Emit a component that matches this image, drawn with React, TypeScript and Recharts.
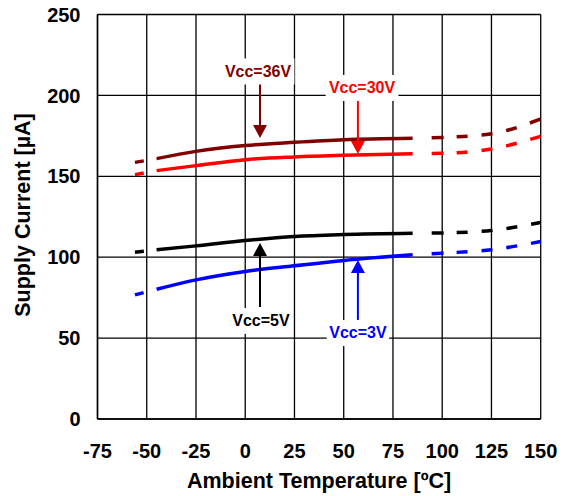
import { LineChart, Line, XAxis, YAxis, CartesianGrid, ReferenceLine, ReferenceDot } from 'recharts'

// temperature points (°C)
const temps = [-56, -45, -25, 0, 25, 50, 85, 100, 125, 150]

// supply current in µA per Vcc
const vcc36 = [158.6, 160.9, 165.4, 169.0, 171.0, 172.6, 173.5, 174.0, 176.3, 185.4]
const vcc30 = [151.0, 153.5, 156.6, 160.3, 162.0, 163.0, 164.0, 164.2, 166.9, 174.7]
const vcc5 = [103.1, 104.6, 107.0, 110.3, 112.8, 114.0, 114.8, 115.0, 116.5, 121.5]
const vcc3 = [76.7, 80.2, 86.0, 91.2, 94.7, 98.0, 101.5, 102.5, 104.6, 109.7]

const xTicks = [-75, -50, -25, 0, 25, 50, 75, 100, 125, 150]
const yTicks = [0, 50, 100, 150, 200, 250]

const series = [
  { key: 'v36', color: '#800000', values: vcc36 },
  { key: 'v30', color: '#ff0000', values: vcc30 },
  { key: 'v5', color: '#000000', values: vcc5 },
  { key: 'v3', color: '#0000ff', values: vcc3 },
]

// solid part spans index 1..6, dashed below and above
const rows = temps.map((t, i) => {
  const row: Record<string, number> = { t }
  series.forEach(s => {
    const v = s.values[i]
    if (i >= 1 && i <= 6) row[s.key + '_s'] = v
    if (i <= 1) row[s.key + '_l'] = v
    if (i >= 6) row[s.key + '_r'] = v
  })
  return row
})

const callouts = [
  { text: 'Vcc=36V', color: '#800000', x: 7.5, from: 207, to: 173.7, labelX: 6.5, labelY: 214.8 },
  { text: 'Vcc=30V', color: '#ff0000', x: 57.2, from: 196.5, to: 163.8, labelX: 59.3, labelY: 204.6 },
  { text: 'Vcc=5V', color: '#000000', x: 7.5, from: 69.2, to: 108.8, labelX: 8, labelY: 60.6 },
  { text: 'Vcc=3V', color: '#0000ff', x: 57.2, from: 61.2, to: 98.3, labelX: 57.2, labelY: 53.2 },
]

const font = '"Liberation Sans", Arial, sans-serif'

const arrowShape = (color: string) => (p: any) => {
  const { x1, y1, x2, y2 } = p
  const dir = y2 > y1 ? 1 : -1
  const head = 13
  const baseY = y2 - dir * head
  return (
    <g>
      <line x1={x1} y1={y1} x2={x2} y2={baseY} stroke={color} strokeWidth={2} />
      <polygon points={`${x2 - 7},${baseY} ${x2 + 7},${baseY} ${x2},${y2}`} fill={color} />
    </g>
  )
}

const labelShape = (text: string, color: string) => (p: any) => {
  const w = text.length * 10.4
  return (
    <g>
      <rect x={p.cx - w / 2} y={p.cy - 13} width={w} height={26} fill="#fff" />
      <text x={p.cx} y={p.cy} textAnchor="middle" dominantBaseline="central"
        fontFamily={font} fontWeight="bold" fontSize={16} fill={color}>{text}</text>
    </g>
  )
}

export default function App() {
  return (
    <div style={{ fontFamily: font }}>
      <style>{'body{margin:0}'}</style>
      <LineChart width={566} height={496} data={rows}
        margin={{ top: 14.5, right: 25.3, left: 0, bottom: 0 }}>
        <CartesianGrid stroke="#000" strokeWidth={1.3} verticalValues={xTicks} horizontalValues={yTicks} />
        <XAxis dataKey="t" type="number" domain={[-75, 150]} ticks={xTicks} interval={0}
          height={77} tickSize={0} tickMargin={25} axisLine={{ stroke: '#000', strokeWidth: 1.5 }}
          tick={{ fill: '#000', fontSize: 20, fontWeight: 'bold', fontFamily: font }}
          label={{ value: 'Ambient Temperature [ºC]', position: 'insideBottom', offset: 8,
            fill: '#000', fontSize: 21.5, fontWeight: 'bold', fontFamily: font }} />
        <YAxis type="number" domain={[0, 250]} ticks={yTicks} interval={0} width={97.5}
          tickSize={0} tickMargin={17} axisLine={{ stroke: '#000', strokeWidth: 1.5 }}
          tick={{ fill: '#000', fontSize: 20, fontWeight: 'bold', fontFamily: font }}
          label={{ content: () => (
            <text x={23} y={215} transform="rotate(-90 23 215)" textAnchor="middle"
              dominantBaseline="central" fontFamily={font} fontWeight="bold" fontSize={21.5}
              fill="#000">Supply Current [µA]</text>
          ) }} />
        {series.map(s => (
          <Line key={s.key + '_l'} dataKey={s.key + '_l'} type="monotone" stroke={s.color}
            strokeWidth={3.5} strokeDasharray="9 20" dot={false} activeDot={false}
            isAnimationActive={false} />
        ))}
        {series.map(s => (
          <Line key={s.key + '_s'} dataKey={s.key + '_s'} type="monotone" stroke={s.color}
            strokeWidth={3.5} dot={false} activeDot={false} isAnimationActive={false} />
        ))}
        {series.map(s => (
          <Line key={s.key + '_r'} dataKey={s.key + '_r'} type="monotone" stroke={s.color}
            strokeWidth={3.5} strokeDasharray="0 19 12 13 11 14 11 14 11 14 11 14"
            dot={false} activeDot={false} isAnimationActive={false} />
        ))}
        {callouts.map(c => (
          <ReferenceDot key={c.text + 'lbl'} x={c.labelX} y={c.labelY} r={0}
            shape={labelShape(c.text, c.color)} />
        ))}
        {callouts.map(c => (
          <ReferenceLine key={c.text + 'arr'} segment={[{ x: c.x, y: c.from }, { x: c.x, y: c.to }]}
            shape={arrowShape(c.color)} />
        ))}
      </LineChart>
    </div>
  )
}
